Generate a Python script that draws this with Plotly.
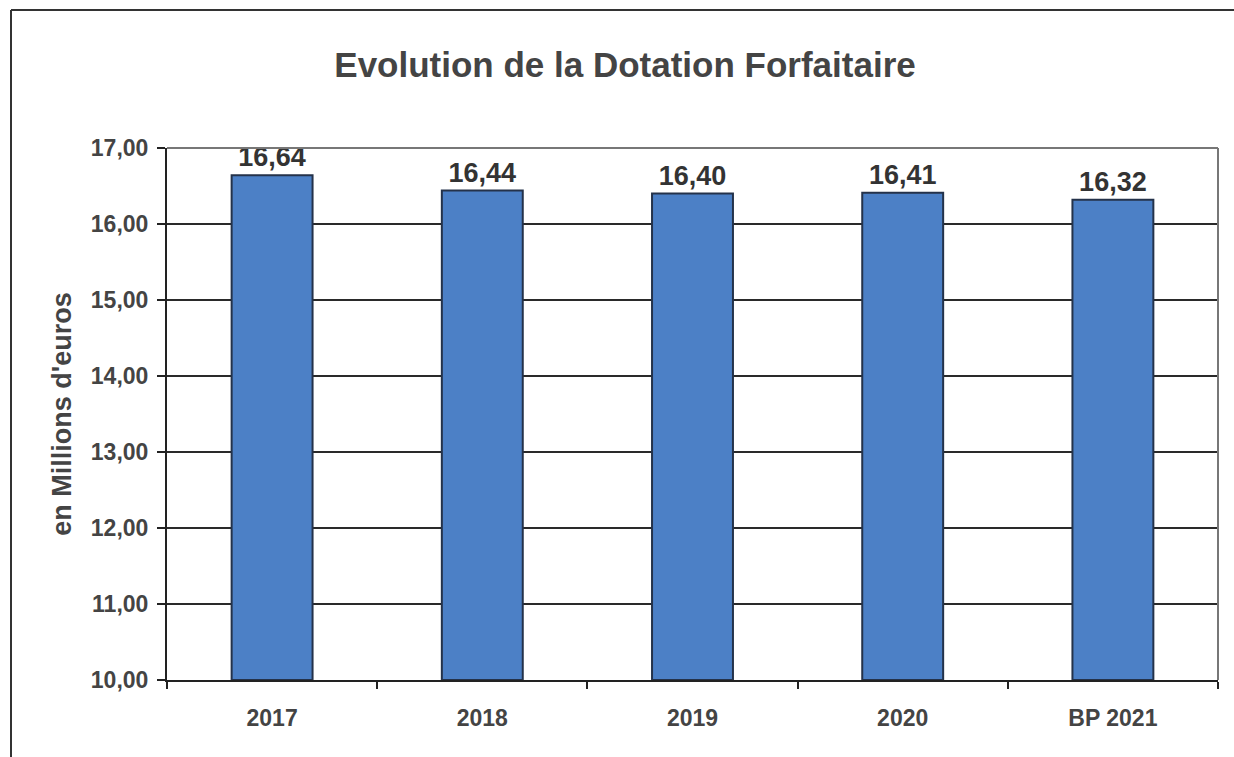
import plotly.graph_objects as go

categories = ["2017", "2018", "2019", "2020", "BP 2021"]
values = [16.64, 16.44, 16.40, 16.41, 16.32]
labels = ["16,64", "16,44", "16,40", "16,41", "16,32"]
y_ticks = [10, 11, 12, 13, 14, 15, 16, 17]
y_tick_text = ["10,00", "11,00", "12,00", "13,00", "14,00", "15,00", "16,00", "17,00"]

W, H = 1234, 757
L, R, T, B = 167, 16, 148, 77
pw, ph = W - L - R, H - T - B
font = "Liberation Sans, Arial"

fig = go.Figure()
fig.add_trace(go.Bar(
    x=categories, y=[v - 10 for v in values], base=10,
    text=labels, texttemplate="<b>%{text}</b>", textposition="outside",
    textfont=dict(family=font, size=27, color="#333333"),
    marker=dict(color="#4C80C6", line=dict(color="#24324a", width=2)),
    width=0.385, cliponaxis=False,
))

fig.update_layout(
    width=W, height=H,
    margin=dict(l=L, r=R, t=T, b=B),
    paper_bgcolor="white", plot_bgcolor="white",
    showlegend=False,
    title=dict(text="<b>Evolution de la Dotation Forfaitaire</b>", x=625 / W, xanchor="center",
               y=1 - 65 / H, yanchor="middle",
               font=dict(family=font, size=35, color="#444444")),
    font=dict(family=font),
)
fig.update_yaxes(
    range=[10, 17], tickvals=y_ticks, ticktext=["<b>" + t + "</b>" for t in y_tick_text],
    tickfont=dict(family=font, size=23, color="#444444"),
    showgrid=True, gridcolor="#2a2a2a", gridwidth=2,
    showline=True, linecolor="#222222", linewidth=2,
    ticks="outside", ticklen=8, tickwidth=2, tickcolor="#222222",
    zeroline=False, ticklabelstandoff=4,
    title=dict(text="<b>en Millions d'euros</b>", standoff=11,
               font=dict(family=font, size=27, color="#444444")),
)
fig.update_xaxes(
    tickvals=categories, ticktext=["<b>" + c + "</b>" for c in categories],
    tickfont=dict(family=font, size=23, color="#444444"),
    showline=True, linecolor="#222222", linewidth=2,
    showgrid=False,
    ticks="outside", ticklen=7, tickwidth=2, tickcolor="#222222",
    tickson="boundaries", ticklabelstandoff=16,
)

# plot area border (top and right lines)
fig.add_shape(type="line", xref="paper", yref="paper", x0=0, x1=1, y0=1, y1=1,
              line=dict(color="#777777", width=2))
fig.add_shape(type="line", xref="paper", yref="paper", x0=1, x1=1, y0=0, y1=1,
              line=dict(color="#777777", width=2))
# outer frame
fx0 = (11 - L) / pw
fy1 = 1 + (T - 10) / ph
fig.add_shape(type="line", xref="paper", yref="paper", x0=fx0, x1=(W + 20 - L) / pw, y0=fy1, y1=fy1,
              line=dict(color="#333333", width=2))
fig.add_shape(type="line", xref="paper", yref="paper", x0=fx0, x1=fx0, y0=fy1, y1=-B / ph - 0.1,
              line=dict(color="#333333", width=2))

fig.write_html("out.html", config={"displayModeBar": False})

with open("out.html", "r", encoding="utf-8") as f:
    html = f.read()
html = html.replace("<head>", "<head><style>html,body{margin:0;padding:0;overflow:hidden;}</style>", 1)
with open("out.html", "w", encoding="utf-8") as f:
    f.write(html)
